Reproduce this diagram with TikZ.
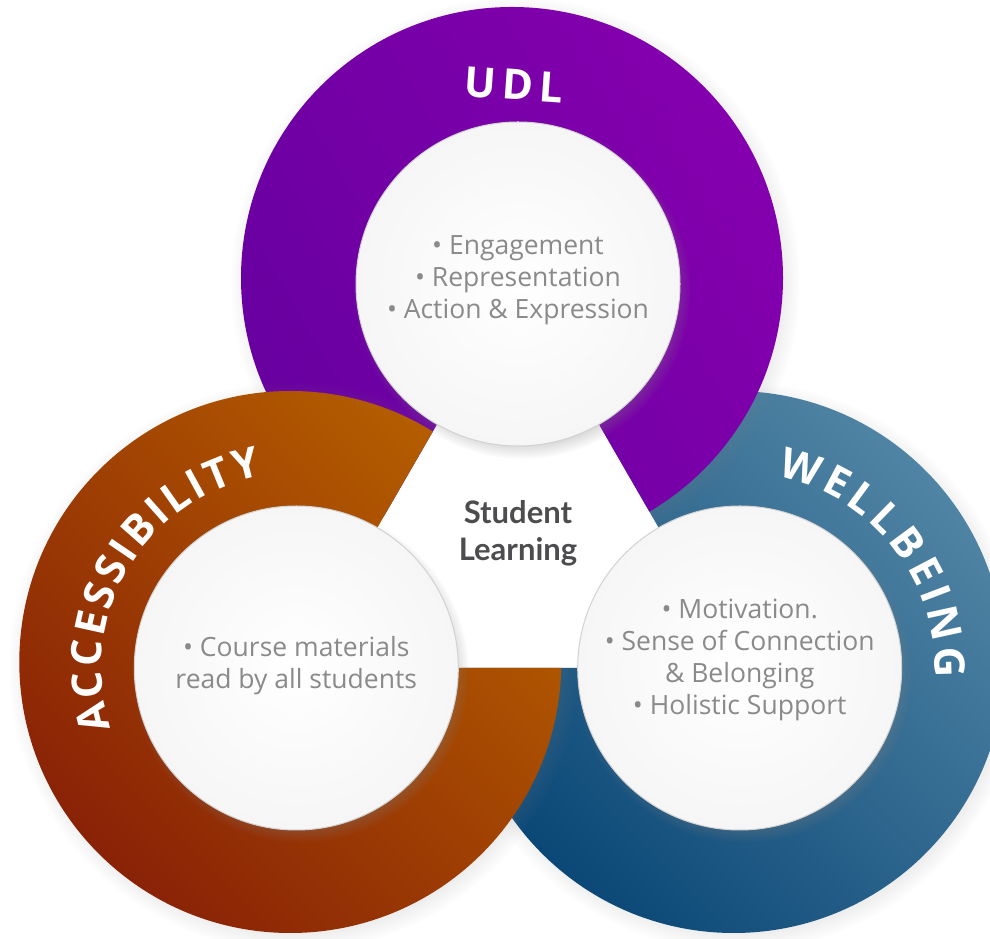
\documentclass[tikz,border=0pt]{standalone}
\usepackage{fontspec}
\setmainfont{Open Sans}
\newfontfamily\latofont{Lato}
\usetikzlibrary{calc,shadows,decorations.text}

\definecolor{udldark}{HTML}{6800A0}
\definecolor{udllight}{HTML}{8400AE}
\definecolor{accdark}{HTML}{8A2206}
\definecolor{acclight}{HTML}{B45E00}
\definecolor{wbdark}{HTML}{0B4877}
\definecolor{wblight}{HTML}{5084A4}
\definecolor{bullettext}{HTML}{8A8A8A}
\definecolor{hubtext}{HTML}{4D4D4F}
\newcommand\ringfont{\fontsize{42}{42}\selectfont\bfseries}

\tikzset{
	ring shadow/.style={circular drop shadow={shadow xshift=3pt, shadow yshift=-4pt, shadow scale=1.05, opacity=.3}},
	disc/.style={circle, minimum size=324pt, inner sep=0pt, draw=gray!35, line width=1pt, inner color=white, outer color=gray!7,
		circular drop shadow={shadow xshift=4pt, shadow yshift=-6pt, shadow scale=1.04, opacity=.5}},
	bullets/.style={align=center, text=bullettext, font=\fontsize{26.5}{32}\selectfont},
	ringtext/.style={decorate, decoration={text along path, text color=white, text align={fit to path}}}
}

\begin{document}
\begin{tikzpicture}[x=1pt,y=1pt]
\useasboundingbox (0,0) rectangle (990,939);
\fill[white] (0,0) rectangle (990,939);
\coordinate (mid) at (518,399);
\foreach \ang/\cdark/\clight/\sang in {330/wbdark/wblight/-45,90/udldark/udllight/-60,210/accdark/acclight/-45} {
	\begin{scope}
		\clip ($(mid)+(\ang:256)$) coordinate (C) -- +(\ang+150:700) -- +(\ang+90:700) -- +(\ang:700) -- +(\ang-90:700) -- +(\ang-150:700) -- cycle;
		\shade[ring shadow, top color=\clight, bottom color=\cdark, shading angle=\sang] ($(C)+(-6,6)$) circle (271);
	\end{scope}
}
\node[disc] (wbin) at ($(mid)+(330:256)$) {};
\node[disc] (udlin) at ($(mid)+(90:256)$) {};
\node[disc] (accin) at ($(mid)+(210:256)$) {};

\node[bullets] (udltxt) at ([yshift=4pt]udlin.center) {• Engagement\\• Representation\\• Action \& Expression};
\node[bullets] (acctxt) at ([yshift=2pt]accin.center) {• Course materials\\read by all students};
\node[bullets] (wbtxt) at ([yshift=8pt]wbin.center) {• Motivation.\\• Sense of Connection\\\& Belonging\\• Holistic Support};
\node[align=center, text=hubtext, font=\latofont\bfseries\fontsize{31}{37}\selectfont] (hub) at ([yshift=7pt]mid) {Student\\Learning};

\node[font=\ringfont, text=white, rotate=-4] (udllbl) at ($(udlin.center)+(-4,199)$) {U\kern6pt D\kern6pt L};
\path[ringtext, decoration={text={|\ringfont|ACCESSIBILITY}}] ($(accin.center)+(198:195)$) arc[start angle=198, end angle=100, radius=195];
\path[ringtext, decoration={text={|\ringfont|WELLBEING}}] ($(wbin.center)+(79:195)$) arc[start angle=79, end angle=-3, radius=195];
\end{tikzpicture}
\end{document}
